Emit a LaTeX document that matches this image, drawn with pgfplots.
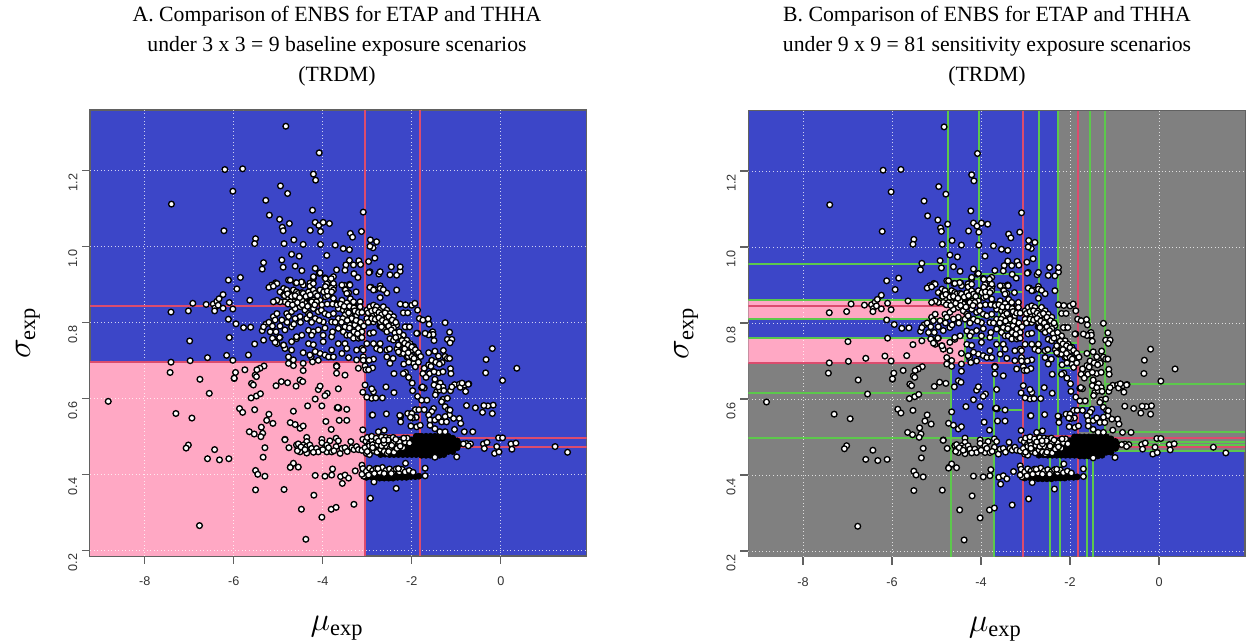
\documentclass[border=0pt]{standalone}
\usepackage{fontspec}
\setmainfont{Liberation Serif}
\setsansfont{Liberation Sans}
\usepackage{pgfplots}
\usepackage{pgfplotstable}
\pgfplotsset{compat=1.18}
\definecolor{bblue}{HTML}{3C46C8}
\definecolor{ppink}{HTML}{FFA8C4}
\definecolor{ggray}{HTML}{808080}
\definecolor{rred}{HTML}{DC4C6E}
\definecolor{ggreen}{HTML}{5CC84C}
\pgfplotstableread[row sep=crcr]{
x y\\
-4.83 1.316\\-4.08 1.246\\-6.20 1.202\\-5.80 1.204\\-4.21 1.19\\-4.16 1.174\\-6.02 1.145\\-4.95 1.159\\-4.79 1.139\\-5.28 1.121\\-7.40 1.111\\-4.23 1.095\\-3.09 1.09\\-5.20 1.082\\-4.97 1.071\\-4.75 1.06\\-4.17 1.063\\-4.09 1.055\\-3.99 1.063\\-3.85 1.06\\-4.91 1.05\\-4.89 1.041\\-4.28 1.042\\-4.05 1.039\\-6.22 1.041\\-3.13 1.039\\-3.38 1.034\\-3.33 1.024\\-5.51 1.02\\-5.53 1.007\\-4.65 1.017\\-4.87 1.007\\-4.44 1.005\\-4.05 1.005\\-3.72 1.003\\-3.54 .994\\-3.40 .991\\-2.93 1.017\\-2.87 .996\\-4.70 .979\\-4.53 .974\\-3.91 .976\\-4.92 .964\\-5.33 .957\\-5.36 .94\\-4.89 .945\\-4.62 .948\\-4.47 .936\\-4.17 .942\\-3.69 .938\\-3.48 .951\\-3.50 .937\\-3.40 .963\\-3.31 .951\\-3.19 .962\\-3.15 .952\\-2.97 .96\\-2.83 .969\\-2.94 .933\\-2.74 .927\\-3.30 .928\\-3.21 .918\\-6.12 .911\\-5.85 .918\\-5.93 .888\\-6.24 .873\\-4.77 .911\\-4.61 .904\\-4.46 .905\\-4.29 .903\\-4.08 .929\\-4.21 .916\\-3.95 .917\\-3.84 .911\\-3.76 .92\\-3.91 .901\\-3.75 .896\\-5.06 .904\\-5.15 .898\\-5.21 .892\\-3.51 .897\\-3.40 .9\\-3.50 .887\\-3.25 .88\\-3.42 .878\\-3.38 .862\\-2.91 .892\\-2.82 .886\\-2.71 .896\\
-7.41 .827\\-7.02 .83\\-6.92 .85\\-6.62 .847\\-6.46 .848\\-6.38 .855\\-6.33 .862\\-6.42 .838\\-6.35 .845\\-6.24 .837\\-6.10 .852\\-6.02 .835\\-5.64 .858\\-6.43 .83\\-6.12 .808\\-5.95 .796\\-5.78 .786\\-5.62 .787\\-5.36 .778\\-5.28 .795\\-5.33 .788\\-5.21 .80\\-5.13 .79\\-5.05 .775\\-5.18 .775\\
-4.21 .92\\-4.06 .93\\-3.94 .915\\-3.81 .915\\-3.76 .902\\-4.29 .895\\-4.21 .902\\-4.44 .898\\-4.48 .906\\-4.59 .904\\-4.73 .911\\-4.88 .889\\-4.81 .885\\-4.66 .885\\-4.59 .88\\-4.96 .88\\-5.03 .902\\-5.11 .895\\
-4.88 .872\\-4.81 .863\\-4.73 .872\\-4.66 .863\\-4.55 .876\\-4.47 .878\\-4.44 .876\\-4.32 .88\\-4.21 .885\\-4.17 .876\\-4.06 .885\\-3.94 .894\\-3.81 .89\\-3.76 .885\\-3.84 .876\\-3.94 .867\\-4.06 .858\\-4.21 .858\\-4.25 .854\\-4.14 .854\\-4.40 .85\\-4.47 .858\\-4.66 .854\\-4.73 .854\\-4.85 .854\\-4.96 .854\\-5.03 .858\\-5.11 .854\\-3.49 .885\\-3.39 .898\\-3.57 .898\\-3.46 .876\\-3.31 .854\\-3.16 .854\\-3.46 .851\\-3.57 .858\\-3.76 .863\\-3.89 .87\\
-5.11 .815\\-5.03 .823\\-5.07 .806\\-4.92 .806\\-4.81 .823\\-4.70 .828\\-4.62 .836\\-4.51 .841\\-4.40 .832\\-4.32 .823\\-4.21 .836\\-4.10 .828\\-4.03 .832\\-3.95 .823\\-3.87 .819\\-3.76 .823\\-3.65 .836\\-3.54 .832\\-3.46 .828\\-3.39 .819\\-3.50 .819\\-3.65 .81\\-3.80 .801\\-3.99 .801\\-4.17 .81\\-4.36 .81\\-4.51 .815\\-4.62 .81\\-4.77 .815\\-4.29 .819\\-3.16 .841\\-3.24 .819\\-3.35 .81\\
-4.96 .79\\-4.85 .78\\-4.70 .788\\-4.47 .766\\-4.59 .757\\-4.32 .779\\-4.21 .775\\-4.25 .766\\-3.99 .766\\-3.80 .762\\-3.99 .749\\-3.65 .784\\-3.50 .788\\-3.39 .793\\-3.28 .793\\-3.20 .784\\-3.12 .775\\-3.54 .775\\-3.46 .766\\-3.39 .766\\-3.31 .758\\-3.20 .758\\-3.16 .762\\-5.11 .757\\-4.96 .76\\-5.03 .744\\-4.88 .74\\-4.70 .749\\-4.59 .762\\
-4.85 .731\\-4.70 .727\\-4.44 .72\\-4.32 .744\\-4.21 .741\\-4.06 .718\\-3.95 .714\\-3.87 .709\\-3.80 .727\\-3.76 .709\\-3.65 .744\\-3.50 .744\\-3.46 .731\\-3.12 .731\\-3.01 .744\\-3.09 .727\\-3.09 .709\\-3.24 .727\\-4.26 .709\\-4.10 .70\\-4.77 .709\\-4.66 .701\\-4.44 .692\\-3.09 .70\\-3.05 .685\\
-6.99 .751\\-6.59 .707\\-7.41 .695\\-6.98 .699\\-6.16 .713\\-6.10 .76\\-6.02 .70\\-5.67 .714\\-5.53 .743\\-5.33 .753\\-5.13 .758\\-4.97 .76\\-5.07 .747\\-4.88 .74\\-4.29 .714\\-4.17 .723\\-3.57 .718\\-3.42 .707\\-3.24 .701\\-4.23 .696\\
-5.32 .685\\-5.41 .679\\-5.48 .675\\-5.75 .675\\-5.96 .668\\-7.43 .668\\-6.76 .65\\-5.99 .652\\-5.99 .653\\-5.52 .661\\-5.49 .657\\-5.60 .639\\-5.56 .635\\-6.55 .613\\-8.82 .592\\-5.61 .601\\-5.49 .606\\-5.40 .612\\-5.05 .633\\-4.93 .644\\-4.79 .641\\-4.60 .632\\-4.51 .648\\-4.45 .644\\-4.44 .673\\-4.77 .692\\-4.66 .686\\-3.69 .685\\-3.69 .686\\-3.69 .684\\-3.69 .666\\-3.50 .661\\-3.20 .679\\-3.03 .675\\-3.05 .635\\-3.10 .616\\-2.86 .617\\-2.90 .60\\-3.65 .625\\-4.10 .623\\-4.06 .632\\-3.90 .613\\-3.95 .607\\-4.17 .598\\-4.34 .58\\-4.02 .58\\-3.65 .575\\-3.64 .574\\-3.66 .576\\-3.46 .571\\-4.66 .566\\-5.87 .573\\-5.80 .563\\-5.53 .57\\-5.21 .558\\-5.26 .542\\-5.12 .534\\-5.38 .524\\-4.73 .536\\-4.62 .531\\-4.51 .521\\-4.44 .527\\-3.93 .539\\-3.63 .542\\-3.46 .542\\-3.81 .518\\-2.89 .556\\-7.30 .56\\-6.94 .548\\-5.65 .512\\-5.54 .506\\-5.35 .508\\-5.39 .499\\-4.85 .492\\-4.85 .491\\-4.36 .497\\-4.36 .486\\-4.02 .492\\-4.02 .483\\-3.84 .488\\-3.70 .495\\-3.65 .488\\-3.37 .486\\-3.10 .517\\-3.10 .492\\
-4.59 .477\\-4.55 .468\\-4.51 .459\\-4.44 .477\\-4.36 .473\\-4.29 .477\\-4.25 .468\\-4.36 .456\\-4.14 .468\\-4.10 .459\\-3.91 .477\\-3.91 .459\\-3.80 .459\\-3.70 .473\\-3.61 .455\\-3.57 .468\\-3.50 .47\\-3.35 .47\\-3.30 .465\\-3.24 .473\\-3.20 .465\\-3.12 .463\\-4.55 .48\\-4.57 .462\\-4.49 .472\\-4.40 .465\\-4.21 .458\\-4.00 .465\\-3.87 .47\\-3.75 .462\\-3.45 .46\\-4.76 .47\\-5.30 .47\\-5.34 .445\\-6.43 .465\\-7.02 .477\\-7.07 .469\\-6.59 .441\\-6.32 .438\\-6.11 .441\\-5.51 .41\\-5.46 .40\\-5.30 .395\\-4.72 .42\\-4.66 .429\\-4.55 .419\\-4.73 .418\\-4.17 .397\\-3.95 .395\\-3.80 .398\\-3.78 .414\\-3.60 .394\\-3.50 .398\\-3.42 .39\\-3.56 .376\\-3.27 .409\\-3.12 .424\\-5.51 .359\\-4.87 .36\\-4.20 .345\\-4.48 .308\\-3.81 .308\\-3.70 .313\\-3.30 .321\\-4.02 .287\\-4.38 .229\\-6.77 .265\\-2.93 .337\\-3.10 .415\\-3.08 .395\\-3.12 .40\\
-2.94 1.0\\-2.79 1.012\\-2.96 .931\\-2.71 .933\\-2.46 .946\\-2.26 .934\\-2.49 .925\\-2.34 .924\\-2.26 .946\\-2.94 .892\\-2.86 .885\\-2.71 .889\\-2.56 .877\\-2.64 .886\\-2.34 .885\\-2.71 .865\\
-2.26 .848\\-2.14 .846\\-2.00 .845\\-1.93 .85\\-2.19 .825\\-2.09 .825\\-1.87 .832\\-1.83 .81\\-1.75 .806\\-1.63 .809\\-1.61 .795\\-1.25 .799\\-1.15 .774\\-1.55 .771\\-1.54 .772\\-1.56 .77\\-1.53 .775\\-1.55 .767\\-1.52 .768\\-1.62 .767\\-1.70 .771\\-1.87 .771\\-1.50 .752\\-1.20 .755\\-1.10 .755\\-1.14 .746\\-.19 .731\\-.33 .702\\-.34 .667\\-.17 .582\\-.29 .58\\-.38 .581\\-.57 .575\\-.41 .563\\-.19 .56\\.36 .679\\.04 .647\\
-3.01 .832\\-2.94 .841\\-2.86 .845\\-2.79 .841\\-2.71 .832\\-2.64 .841\\-2.56 .832\\-2.49 .823\\-2.41 .815\\-2.94 .823\\-2.86 .819\\-2.79 .823\\-2.64 .819\\-2.56 .81\\-2.49 .806\\-3.01 .81\\-2.94 .801\\-2.86 .801\\-2.71 .801\\-2.60 .797\\-2.49 .793\\-2.41 .793\\-2.34 .793\\-2.64 .784\\-2.56 .775\\-2.41 .779\\-2.34 .771\\-2.19 .766\\-2.11 .788\\-1.89 .771\\-2.49 .757\\-2.41 .753\\-2.26 .757\\-2.11 .753\\-2.04 .744\\-1.96 .736\\-2.86 .744\\-2.79 .731\\-2.71 .744\\-2.71 .727\\-2.56 .727\\-2.56 .709\\-2.26 .718\\-2.19 .718\\-2.11 .709\\-1.89 .701\\-1.96 .692\\-2.86 .703\\-2.96 .70\\
-2.94 .771\\-2.86 .773\\-2.68 .788\\-2.41 .785\\-2.15 .788\\-2.05 .788\\-2.50 .73\\-2.33 .73\\-2.18 .735\\-2.30 .722\\-2.08 .71\\-2.00 .727\\-2.00 .71\\-1.88 .72\\-1.72 .678\\-2.42 .705\\-2.49 .692\\-2.88 .68\\-2.97 .675\\-2.40 .665\\-2.18 .69\\-2.07 .695\\-1.92 .683\\-2.14 .668\\-2.19 .665\\-2.07 .655\\-1.99 .64\\
-1.72 .679\\-1.62 .688\\-1.57 .684\\-1.40 .667\\-1.48 .65\\-1.36 .64\\-1.30 .63\\-1.48 .724\\-1.40 .711\\-1.29 .726\\-1.25 .71\\-1.20 .705\\-1.32 .694\\-1.15 .705\\-1.13 .678\\-1.12 .665\\-1.44 .617\\-1.37 .622\\-1.47 .609\\-1.30 .597\\-1.33 .591\\-1.25 .578\\-1.18 .57\\-1.15 .556\\-1.25 .552\\-1.14 .569\\-1.51 .573\\-1.55 .565\\-1.62 .556\\-1.59 .543\\-1.48 .543\\-1.40 .55\\-1.33 .538\\-1.22 .538\\-1.06 .547\\-1.59 .529\\-1.48 .52\\-1.37 .512\\-1.25 .512\\-1.04 .518\\-.82 .512\\-.63 .512\\-.93 .547\\-.90 .534\\-.77 .581\\-.79 .618\\-1.04 .636\\-.93 .637\\-.91 .629\\-.81 .635\\-.72 .638\\-.73 .637\\-1.13 .62\\-1.10 .63\\-.87 .64\\-1.72 .627\\-1.78 .628\\-1.66 .595\\-1.76 .63\\-1.87 .605\\-1.98 .62\\-2.58 .63\\-2.40 .615\\-2.66 .601\\-2.81 .601\\-3.01 .603\\-2.90 .625\\
-2.88 .556\\-2.25 .553\\-1.92 .57\\-2.01 .56\\-2.25 .553\\-2.25 .538\\-2.09 .56\\-2.00 .56\\-1.84 .57\\-1.90 .55\\-1.99 .548\\-2.02 .527\\-1.89 .525\\-1.81 .529\\-2.62 .516\\-2.75 .512\\-2.03 .55\\-2.57 .559\\-2.27 .555\\
-.99 .446\\-1.48 .445\\-.77 .481\\-.84 .48\\-.39 .48\\-.37 .468\\-.31 .484\\-.14 .455\\-.04 .459\\-.09 .473\\-.05 .496\\.04 .496\\.23 .48\\.25 .466\\.34 .482\\1.22 .473\\1.50 .458\\-.68 .48\\-.73 .475\\-1.70 .416\\-1.70 .396\\-2.14 .429\\-2.35 .363\\-2.85 .38\\
-3.03 .487\\-2.96 .48\\-2.90 .49\\-2.85 .474\\-2.80 .485\\-2.75 .47\\-2.70 .49\\-2.65 .478\\-2.60 .487\\-2.55 .468\\-2.50 .482\\-2.45 .49\\-2.40 .472\\-2.35 .485\\-2.30 .476\\-2.25 .49\\-2.98 .467\\-2.92 .46\\-2.85 .462\\-2.78 .458\\-2.70 .466\\-2.62 .46\\-2.55 .455\\-2.47 .462\\-2.40 .458\\-3.05 .47\\-3.00 .497\\-2.90 .50\\-2.80 .495\\-2.68 .498\\-2.58 .497\\-2.50 .495\\-2.42 .497\\-3.02 .455\\-2.95 .452\\-2.82 .476\\-2.72 .48\\-2.58 .475\\-2.48 .47\\-2.20 .47\\-2.15 .485\\-2.10 .495\\-2.05 .482\\
-3.02 .408\\-2.95 .416\\-2.88 .41\\-2.80 .415\\-2.72 .405\\-2.66 .418\\-2.58 .41\\-2.50 .414\\-2.42 .408\\-2.35 .414\\-2.28 .406\\-2.22 .413\\-2.15 .406\\-2.06 .41\\-1.97 .405\\-2.92 .40\\-2.84 .402\\-2.76 .415\\-2.62 .402\\-2.46 .402\\-2.30 .415\\-2.97 .398\\
-4.86 .87\\-4.79 .875\\-4.70 .868\\-4.62 .87\\-4.52 .865\\-4.38 .868\\-4.28 .872\\-4.12 .87\\-3.98 .88\\-3.90 .882\\-3.80 .88\\-4.78 .848\\-4.68 .846\\-4.57 .852\\-4.46 .846\\-4.34 .842\\-4.18 .846\\-4.02 .846\\-3.90 .848\\-3.78 .848\\-3.68 .846\\-3.60 .848\\-3.52 .842\\-3.40 .842\\-3.30 .838\\-3.28 .83\\-3.20 .826\\-3.12 .826\\-3.42 .825\\-3.55 .81\\-3.45 .805\\-3.25 .805\\-3.15 .80\\-3.08 .79\\-3.40 .785\\-3.30 .775\\-3.22 .77\\-3.12 .76\\-3.58 .80\\-3.72 .80\\-4.08 .805\\-4.25 .80\\-4.50 .80\\-4.65 .795\\-4.80 .80\\-3.95 .785\\-3.78 .775\\-4.10 .78\\
-2.98 .825\\-2.90 .83\\-2.82 .832\\-2.74 .826\\-2.68 .82\\-2.60 .825\\-2.52 .815\\-2.44 .806\\-2.36 .80\\-2.98 .80\\-2.90 .81\\-2.82 .808\\-2.74 .812\\-2.66 .805\\-2.58 .80\\-2.52 .79\\-2.46 .78\\-2.38 .772\\-2.30 .762\\-2.22 .752\\-2.16 .745\\-2.08 .74\\-2.00 .735\\-1.92 .728\\-1.85 .72\\-1.80 .71\\-2.28 .775\\-2.36 .76\\-2.30 .74\\-2.16 .73\\-2.08 .72\\-1.95 .705\\-1.85 .695\\
-2.95 .475\\-2.88 .478\\-2.77 .478\\-2.68 .475\\-2.62 .482\\-2.53 .49\\-2.42 .482\\-2.33 .468\\-2.28 .485\\-2.18 .495\\-3.00 .46\\-2.88 .47\\-2.75 .487\\-2.63 .49\\-2.52 .46\\-2.45 .476\\-2.36 .492\\-2.26 .474\\
-1.62 .72\\-1.55 .70\\-1.46 .695\\-1.38 .69\\-1.30 .67\\-1.60 .665\\-1.50 .67\\-1.75 .665\\-1.68 .655\\-1.50 .635\\-1.40 .63\\-1.28 .62\\-1.20 .60\\-1.78 .595\\-1.72 .57\\
}\pts
\pgfplotstableread[row sep=crcr]{
x y\\
-1.78 .50\\-1.68 .50\\-1.58 .50\\-1.48 .50\\-1.38 .50\\-1.28 .50\\-1.18 .50\\-1.08 .495\\-1.78 .49\\-1.68 .49\\-1.58 .49\\-1.48 .49\\-1.38 .49\\-1.28 .49\\-1.18 .49\\-1.08 .49\\-.98 .488\\-1.78 .48\\-1.68 .48\\-1.58 .48\\-1.48 .48\\-1.38 .48\\-1.28 .48\\-1.18 .48\\-1.08 .48\\-.98 .48\\-.92 .48\\-1.78 .47\\-1.68 .47\\-1.58 .47\\-1.48 .47\\-1.38 .47\\-1.28 .47\\-1.18 .47\\-1.08 .47\\-.98 .47\\-1.78 .46\\-1.68 .46\\-1.58 .46\\-1.48 .46\\-1.38 .46\\-1.28 .46\\-1.18 .46\\-1.08 .46\\-1.78 .45\\-1.68 .45\\-1.58 .45\\-1.48 .45\\-1.38 .45\\-1.28 .452\\
-3.00 .46\\-2.90 .46\\-2.80 .46\\-2.70 .46\\-2.60 .46\\-2.50 .46\\-3.00 .47\\-2.90 .47\\-2.80 .47\\-2.70 .47\\-2.60 .47\\-2.50 .47\\-2.40 .47\\-3.00 .48\\-2.90 .48\\-2.80 .48\\-2.70 .48\\-2.60 .48\\-2.50 .48\\-2.40 .48\\-2.30 .48\\-2.20 .485\\
-2.40 .46\\-2.30 .462\\-2.20 .46\\-2.10 .46\\-2.00 .46\\-1.90 .46\\-1.84 .46\\-2.30 .47\\-2.20 .475\\-2.10 .472\\-2.00 .47\\-1.90 .47\\-1.84 .47\\-2.10 .483\\-2.00 .48\\-1.90 .48\\-1.84 .48\\-2.00 .49\\-1.90 .49\\-1.84 .49\\-1.90 .50\\-1.84 .50\\-2.70 .452\\-2.60 .453\\-2.50 .452\\-2.40 .452\\-2.30 .452\\-2.20 .452\\-2.10 .452\\-2.00 .452\\-1.90 .452\\
-3.02 .392\\-2.92 .394\\-2.82 .392\\-2.72 .39\\-2.62 .39\\-2.52 .39\\-2.42 .39\\-2.32 .392\\-2.22 .392\\-2.12 .392\\-2.02 .394\\-1.92 .394\\-1.84 .395\\-2.62 .398\\-2.52 .398\\-2.42 .398\\-2.32 .40\\-2.22 .40\\-2.12 .40\\-3.02 .40\\-2.9 .40\\
-4.80 .86\\-4.65 .858\\-4.35 .86\\-3.70 .85\\-3.55 .852\\-3.30 .845\\-3.25 .81\\-2.72 .79\\-2.48 .80\\-1.55 .772\\-3.68 .684\\-3.68 .575\\
}\ptsb
\newcommand\Bx[5]{\addplot[draw=none,fill=#1] coordinates {(#2,#3)(#4,#3)(#4,#5)(#2,#5)} -- cycle;}
\newcommand\G[4]{\addplot[ggreen,line width=1.5pt] coordinates {(#1,#2)(#3,#4)};}
\newcommand\Rd[4]{\addplot[rred,line width=1.5pt] coordinates {(#1,#2)(#3,#4)};}
\tikzset{gridl/.style={white,opacity=.75,dotted,line width=.65pt}}
\newcommand\Grid{%
\addplot[gridl] coordinates {(-8,.185)(-8,1.3587)};
\addplot[gridl] coordinates {(-6,.185)(-6,1.3587)};
\addplot[gridl] coordinates {(-4,.185)(-4,1.3587)};
\addplot[gridl] coordinates {(-2,.185)(-2,1.3587)};
\addplot[gridl] coordinates {(0,.185)(0,1.3587)};
\addplot[gridl] coordinates {(-9.23,.2)(1.93,.2)};
\addplot[gridl] coordinates {(-9.23,.4)(1.93,.4)};
\addplot[gridl] coordinates {(-9.23,.6)(1.93,.6)};
\addplot[gridl] coordinates {(-9.23,.8)(1.93,.8)};
\addplot[gridl] coordinates {(-9.23,1.0)(1.93,1.0)};
\addplot[gridl] coordinates {(-9.23,1.2)(1.93,1.2)};
}
\newcommand\Points{%
\addplot[only marks,mark=*,mark size=2.3pt,mark options={fill=black,draw=black,line width=.5pt}] table {\ptsb};
\addplot[only marks,mark=*,mark size=2.15pt,mark options={fill=white,draw=black,line width=1pt}] table {\pts};
}
\pgfplotsset{rstyle/.style={
 scale only axis,width=372.5pt,height=334.5pt,
 xmin=-9.23,xmax=1.93,ymin=.185,ymax=1.3587,
 axis line style={draw=black!62,line width=1.1pt},
 tick style={draw=black!62,line width=.9pt},
 tick align=outside,major tick length=6pt,
 xtick pos=bottom,ytick pos=left,
 xtick={-8,-6,-4,-2,0},xticklabels={-8,-6,-4,-2,0},
 ytick={.2,.4,.6,.8,1.0,1.2},yticklabels={0.2,0.4,0.6,0.8,1.0,1.2},
 ticklabel style={font=\sffamily\fontsize{9.5}{9.5}\selectfont,text=black!80},
 yticklabel style={rotate=90,anchor=south},
 xticklabel style={yshift=-6pt},
 yticklabel style={xshift=-9pt},
 xlabel={$\mu_{\mathrm{exp}}$},ylabel={$\sigma_{\mathrm{exp}}$},
 label style={font=\fontsize{24}{24}\selectfont},
 xlabel style={at={(axis description cs:.497,-.162)},anchor=center},
 ylabel style={at={(axis description cs:-.125,.5)},anchor=center,rotate=0},
 axis background/.style={fill=bblue},
}}
\begin{document}
\begin{tikzpicture}[x=.75pt,y=.75pt]
\path[use as bounding box] (0,0) rectangle (1249,642);
\begin{axis}[rstyle,at={(67.5pt,64.5pt)},anchor=south west]
\Bx{ppink}{-9.23}{.185}{-3.06}{.695}
\Grid
\Points
\Rd{-3.06}{.185}{-3.06}{1.3587}
\Rd{-1.81}{.185}{-1.81}{1.3587}
\Rd{-9.23}{.8437}{-3.06}{.8437}
\Rd{-9.23}{.695}{-3.06}{.695}
\Rd{-3.06}{.5034}{-1.81}{.5034}
\Rd{-3.06}{.458}{-1.81}{.458}
\Rd{-1.81}{.4965}{1.93}{.4965}
\Rd{-1.81}{.4726}{1.93}{.4726}
\end{axis}
\begin{axis}[rstyle,at={(561.2pt,64pt)},anchor=south west]
\Bx{ggray}{-9.23}{.185}{-4.68}{.695}
\Bx{ggray}{-4.68}{.185}{-3.715}{.497}
\Bx{ggray}{-2.263}{.748}{1.93}{1.3587}
\Bx{ggray}{-1.813}{.5805}{1.93}{.748}
\Bx{ggray}{-1.551}{.616}{1.93}{.748}
\Bx{ggray}{-1.225}{.464}{1.93}{.748}
\Bx{ggray}{-1.813}{.464}{-1.225}{.513}
\Bx{ppink}{-9.23}{.81}{-4.735}{.861}
\Bx{ppink}{-4.735}{.81}{-4.36}{.8437}
\Bx{ppink}{-9.23}{.695}{-4.36}{.761}
\Grid
\Points
% long verticals
\G{-4.735}{1.3587}{-4.735}{.861}
\G{-4.681}{.695}{-4.681}{.185}
\G{-4.038}{1.3587}{-4.038}{.861}
\G{-3.715}{.695}{-3.715}{.185}
\G{-2.697}{1.3587}{-2.697}{.5034}
\G{-2.263}{1.3587}{-2.263}{.5034}
\G{-1.551}{1.3587}{-1.551}{.513}
\G{-1.225}{1.3587}{-1.225}{.513}
\G{-2.461}{.458}{-2.461}{.185}
\G{-2.225}{.5034}{-2.225}{.185}
\G{-1.618}{.464}{-1.618}{.185}
\G{-1.490}{.464}{-1.490}{.185}
\G{-1.962}{.5034}{-1.962}{.47}
\G{-4.36}{.843}{-4.36}{.695}
\G{-3.589}{.843}{-3.589}{.695}
% long horizontals
\G{-9.23}{.956}{-4.735}{.956}
\G{-9.23}{.861}{-4.038}{.861}
\G{-9.23}{.81}{-4.36}{.81}
\G{-9.23}{.761}{-3.589}{.761}
\G{-9.23}{.616}{-4.681}{.616}
\G{-9.23}{.497}{-3.715}{.497}
\G{-4.681}{.464}{-3.063}{.464}
\G{-1.225}{.640}{1.93}{.640}
\G{-1.551}{.513}{1.93}{.513}
\G{-1.813}{.486}{1.93}{.486}
\G{-1.813}{.478}{1.93}{.478}
\G{-1.813}{.464}{1.93}{.464}
% small segments
\G{-4.735}{.917}{-4.038}{.917}
\G{-4.735}{.868}{-4.038}{.868}
\G{-4.038}{.930}{-3.063}{.930}
\G{-4.038}{.8805}{-3.063}{.8805}
\G{-4.36}{.815}{-3.589}{.815}
\G{-3.589}{.8008}{-3.063}{.8008}
\G{-3.589}{.780}{-3.063}{.780}
\G{-3.715}{.570}{-3.063}{.570}
\G{-3.063}{.814}{-2.697}{.814}
\G{-2.697}{.807}{-2.263}{.807}
\G{-3.063}{.743}{-2.697}{.743}
\G{-2.697}{.722}{-2.263}{.722}
\G{-2.263}{.748}{-1.813}{.748}
\G{-2.263}{.6816}{-1.813}{.6816}
\G{-1.813}{.7245}{-1.551}{.7245}
\G{-1.813}{.5805}{-1.551}{.5805}
\G{-1.551}{.616}{-1.225}{.616}
\G{-3.063}{.482}{-1.813}{.482}
\G{-2.46}{.469}{-1.813}{.469}
\G{-3.063}{.4008}{-1.813}{.4008}
\Rd{-3.063}{.185}{-3.063}{1.3587}
\Rd{-1.813}{.185}{-1.813}{1.3587}
\Rd{-9.23}{.8437}{-3.063}{.8437}
\Rd{-9.23}{.695}{-3.063}{.695}
\Rd{-3.063}{.5034}{-1.813}{.5034}
\Rd{-3.063}{.458}{-1.813}{.458}
\Rd{-1.813}{.4965}{1.93}{.4965}
\Rd{-1.813}{.4726}{1.93}{.4726}
\end{axis}
\node[align=center,font=\fontsize{16.3}{22.6}\selectfont] at (337,596) {A. Comparison of ENBS for ETAP and THHA\\under 3 x 3 = 9 baseline exposure scenarios\\(TRDM)};
\node[align=center,font=\fontsize{16.3}{22.6}\selectfont] at (987,596) {B. Comparison of ENBS for ETAP and THHA\\under 9 x 9 = 81 sensitivity exposure scenarios\\(TRDM)};
\end{tikzpicture}
\end{document}
